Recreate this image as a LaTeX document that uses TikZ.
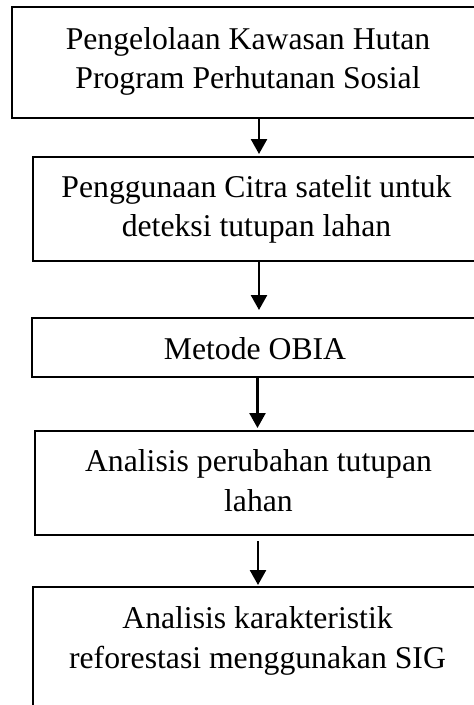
\documentclass[tikz,border=0pt]{standalone}
\usepackage{fontspec}
\setmainfont{Liberation Serif}
\usetikzlibrary{arrows.meta}
\begin{document}
\begin{tikzpicture}[x=1pt,y=-1pt,
  box/.style={draw=black,line width=2.6pt,rectangle,inner sep=0pt,outer sep=0pt,anchor=north west},
  txt/.style={anchor=base,inner sep=0pt,font=\fontsize{31.7}{38}\selectfont},
  arr/.style={draw=black,line width=2.5pt,-{Triangle[width=16pt,length=15pt]}}]
\useasboundingbox (0,0) rectangle (474,705);
\clip (0,0) rectangle (474,705);
\fill[white] (0,0) rectangle (474,705);
% boxes
\node[box,minimum width=472pt,minimum height=111pt] (b1) at (12,7) {};
\node[box,minimum width=449pt,minimum height=104pt] (b2) at (33,157) {};
\node[box,minimum width=450pt,minimum height=59pt] (b3) at (32,318) {};
\node[box,minimum width=447pt,minimum height=104pt] (b4) at (35,431) {};
\node[box,minimum width=449pt,minimum height=140pt] (b5) at (33,587) {};
% texts
\node[txt] (t1a) at (248,49) {Pengelolaan Kawasan Hutan};
\node[txt] (t1b) at (248,88) {Program Perhutanan Sosial};
\node[txt] (t2a) at (256.5,197) {Penggunaan Citra satelit untuk};
\node[txt] (t2b) at (256.5,236.5) {deteksi tutupan lahan};
\node[txt] (t3) at (255,359) {Metode OBIA};
\node[txt] (t4a) at (258.5,471) {Analisis perubahan tutupan};
\node[txt] (t4b) at (258.5,511) {lahan};
\node[txt] (t5a) at (257.5,628) {Analisis karakteristik};
\node[txt] (t5b) at (257.5,668) {reforestasi menggunakan SIG};
% arrows
\draw[arr,shorten >=3pt] ([xshift=11pt]b1.south) -- ([xshift=11pt]b1.south |- b2.north);
\draw[arr,shorten >=8pt] ([xshift=1.5pt]b2.south) -- ([xshift=1.5pt]b2.south |- b3.north);
\draw[arr,shorten >=3pt] ([xshift=0.5pt]b3.south) -- ([xshift=0.5pt]b3.south |- b4.north);
\draw[arr,shorten <=6pt,shorten >=2pt] ([xshift=-0.5pt]b4.south) -- ([xshift=-0.5pt]b4.south |- b5.north);
\end{tikzpicture}
\end{document}
